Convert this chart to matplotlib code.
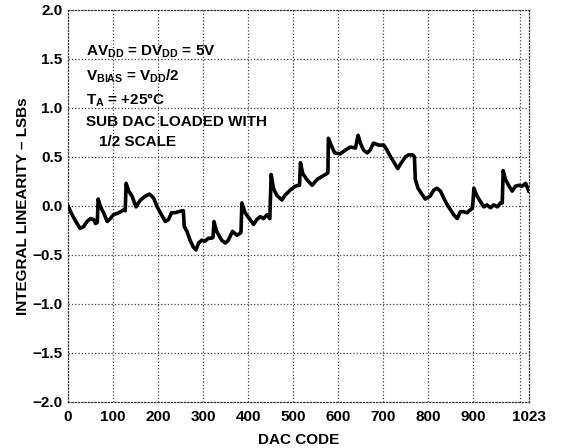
import matplotlib
matplotlib.use("Agg")
import matplotlib.pyplot as plt

plt.rcParams['font.family'] = ['Liberation Sans', 'DejaVu Sans']
plt.rcParams['font.weight'] = 'bold'
plt.rcParams['mathtext.fontset'] = 'custom'
plt.rcParams['mathtext.rm'] = 'Liberation Sans:bold'
plt.rcParams['mathtext.it'] = 'Liberation Sans:bold'
plt.rcParams['mathtext.bf'] = 'Liberation Sans:bold'
plt.rcParams['mathtext.default'] = 'rm'

# INL trace (DAC code, LSBs)
codes = [0, 9, 20, 27, 35, 42, 50, 57, 61, 65, 67, 72, 79, 87, 94, 101, 113, 124,
         127, 129, 135, 142, 151, 161, 172, 181, 190, 198, 205, 216, 223, 230, 238,
         245, 254, 256, 258, 264, 271, 278, 284, 290, 297, 304, 312, 319, 322, 324,
         330, 341, 349, 356, 365, 375, 382, 384, 386, 393, 404, 412, 419, 427, 434,
         442, 448, 451, 456, 463, 475, 482, 493, 504, 512, 514, 516, 521, 530, 542,
         553, 564, 575, 577, 578, 584, 592, 604, 616, 627, 638, 644, 649, 656, 664,
         671, 678, 690, 701, 708, 716, 723, 732, 740, 749, 756, 765, 769, 771, 777,
         784, 793, 804, 812, 819, 827, 834, 842, 849, 856, 864, 871, 878, 886, 893,
         898, 901, 908, 916, 923, 930, 938, 945, 953, 960, 964, 966, 971, 978, 986,
         993, 1001, 1008, 1016, 1023]
inl = [0.00, -0.09, -0.18, -0.23, -0.21, -0.16, -0.13, -0.14, -0.18, -0.17, 0.07,
       -0.01, -0.07, -0.16, -0.13, -0.09, -0.07, -0.04, -0.05, 0.23, 0.15, 0.10,
       -0.01, 0.06, 0.10, 0.12, 0.08, -0.01, -0.07, -0.16, -0.14, -0.07, -0.07,
       -0.06, -0.05, -0.05, -0.21, -0.26, -0.35, -0.42, -0.45, -0.38, -0.35, -0.36,
       -0.33, -0.33, -0.32, -0.16, -0.26, -0.35, -0.38, -0.35, -0.26, -0.30, -0.28,
       -0.27, 0.03, -0.07, -0.14, -0.19, -0.14, -0.11, -0.13, -0.09, -0.13, 0.32,
       0.18, 0.11, 0.06, 0.11, 0.16, 0.20, 0.21, 0.21, 0.44, 0.33, 0.27, 0.21, 0.27,
       0.30, 0.33, 0.34, 0.69, 0.62, 0.54, 0.53, 0.57, 0.60, 0.59, 0.72, 0.64, 0.57,
       0.54, 0.57, 0.64, 0.62, 0.62, 0.57, 0.50, 0.45, 0.38, 0.44, 0.50, 0.52, 0.52,
       0.50, 0.27, 0.18, 0.13, 0.07, 0.10, 0.16, 0.18, 0.15, 0.08, 0.01, -0.04,
       -0.09, -0.13, -0.06, -0.06, -0.07, -0.04, -0.02, 0.18, 0.10, 0.04, -0.01,
       0.01, -0.02, 0.01, -0.01, 0.03, 0.03, 0.36, 0.27, 0.21, 0.15, 0.20, 0.21,
       0.20, 0.23, 0.15]

xticks = [0, 100, 200, 300, 400, 500, 600, 700, 800, 900, 1023]
yticks = [-2.0, -1.5, -1.0, -0.5, 0.0, 0.5, 1.0, 1.5, 2.0]

fig = plt.figure(figsize=(5.62, 4.48), dpi=100)
ax = fig.add_axes([0.121, 0.103, 0.820, 0.875])

# dotted grid, including the extra vertical line near the right edge
for x in [100, 200, 300, 400, 500, 600, 700, 800, 900, 1003]:
    ax.axvline(x, color='0.25', ls=':', lw=0.9, zorder=1)
for y in [-1.5, -1.0, -0.5, 0.0, 0.5, 1.0, 1.5]:
    ax.axhline(y, color='0.25', ls=':', lw=0.9, zorder=1)

ax.plot(codes, inl, color='black', lw=2.6, zorder=3)

ax.set_xlim(0, 1023)
ax.set_ylim(-2.0, 2.0)
ax.set_xticks(xticks)
ax.set_xticklabels([str(t) for t in xticks])
ax.set_yticks(yticks)
ax.set_yticklabels(['\u22122.0', '\u22121.5', '\u22121.0', '\u22120.5', '0.0',
                    '0.5', '1.0', '1.5', '2.0'])
ax.tick_params(length=0, labelsize=11)
ax.tick_params(axis='x', pad=6)
ax.tick_params(axis='y', pad=4)
for s in ax.spines.values():
    s.set_linestyle(':')
    s.set_linewidth(0.9)
    s.set_color('0.2')

ax.set_xlabel('DAC CODE', fontsize=11, fontweight='bold', labelpad=6)
ax.set_ylabel('INTEGRAL LINEARITY \u2013 LSBs', fontsize=11, fontweight='bold', labelpad=2)

tkw = dict(fontsize=11, fontweight='bold', va='center', ha='left')
ax.text(40, 1.57, r'AV$_{DD}$ = DV$_{DD}$ = 5V', **tkw)
ax.text(40, 1.32, r'V$_{BIAS}$ = V$_{DD}$/2', **tkw)
ax.text(40, 1.08, 'T$_{A}$ = +25\u00b0C', **tkw)
ax.text(40, 0.86, 'SUB DAC LOADED WITH', **tkw)
ax.text(69, 0.65, '1/2 SCALE', **tkw)

fig.savefig('out.png', dpi=100)
